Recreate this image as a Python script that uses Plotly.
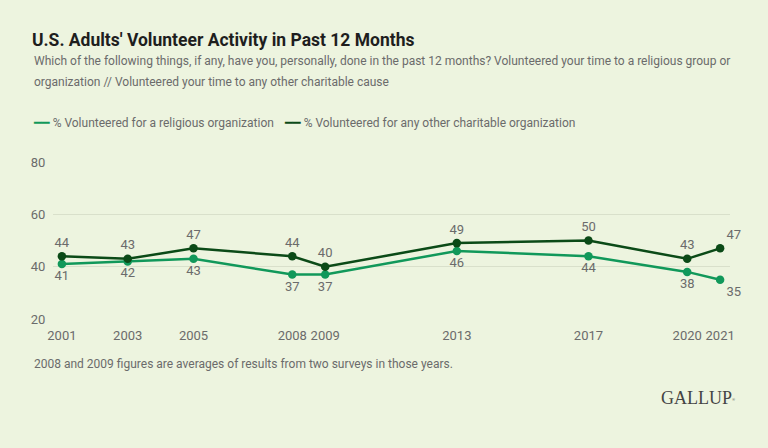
import plotly.graph_objects as go

years = [2001, 2003, 2005, 2008, 2009, 2013, 2017, 2020, 2021]
religious = [41, 42, 43, 37, 37, 46, 44, 38, 35]
charitable = [44, 43, 47, 44, 40, 49, 50, 43, 47]
y_ticks = [20, 40, 60, 80]
rel_name = '% Volunteered for a religious organization'
cha_name = '% Volunteered for any other charitable organization'

BG = '#EDF4DF'
C_REL = '#11985A'
C_CHA = '#0B4A17'
GREY = '#6b6b6b'
FONT = 'Roboto, Liberation Sans, sans-serif'


def px_x(p):
    # page pixel -> paper x (plot spans 53..730)
    return (p - 53) / 677


def px_y(p):
    # page pixel -> paper y (plot spans 162..319)
    return (319 - p) / 157


def key(color):
    # short line used as legend key
    return f'<span style="color:{color};font-family:DejaVu Sans;font-size:13px">━━</span>'


fig = go.Figure()

rel_pos = ['bottom center'] * (len(years) - 1) + ['bottom right']
cha_pos = ['top center'] * (len(years) - 1) + ['top right']
fig.add_trace(go.Scatter(x=years, y=religious, mode='lines+markers+text', name=rel_name,
                         line=dict(color=C_REL, width=2.5), marker=dict(color=C_REL, size=8.5),
                         text=[str(v) for v in religious], textposition=rel_pos, cliponaxis=False,
                         textfont=dict(family=FONT, size=13, color=GREY)))
fig.add_trace(go.Scatter(x=years, y=charitable, mode='lines+markers+text', name=cha_name,
                         line=dict(color=C_CHA, width=2.5), marker=dict(color=C_CHA, size=8.5),
                         text=[str(v) for v in charitable], textposition=cha_pos, cliponaxis=False,
                         textfont=dict(family=FONT, size=13, color=GREY)))

fig.update_layout(
    width=768, height=448,
    paper_bgcolor=BG, plot_bgcolor=BG,
    margin=dict(l=53, r=38, t=162, b=129),
    title=dict(text="<b>U.S. Adults' Volunteer Activity in Past 12 Months</b>",
               x=32 / 768, xanchor='left', xref='container',
               y=1 - 40 / 448, yanchor='middle', yref='container',
               font=dict(family=FONT, size=17.5, color='#1e1e1e')),
    showlegend=False,
    xaxis=dict(range=[2000.73, 2021.3], tickvals=years, showgrid=False, zeroline=False,
               showline=False, tickfont=dict(family=FONT, size=13, color=GREY),
               ticks='outside', ticklen=4, tickcolor='rgba(0,0,0,0)'),
    yaxis=dict(range=[20, 80], tickvals=y_ticks, showgrid=True, gridcolor='#D9E0CB', gridwidth=1,
               zeroline=False, showline=False, tickfont=dict(family=FONT, size=13, color=GREY),
               ticks='outside', ticklen=4, tickcolor='rgba(0,0,0,0)'),
    hovermode=False,
)

# legend row
fig.add_annotation(text=f'{key(C_REL)} {rel_name}',
                   xref='paper', yref='paper', x=px_x(31), y=px_y(122), xanchor='left', yanchor='middle',
                   showarrow=False, font=dict(family=FONT, size=12, color=GREY))
fig.add_annotation(text=f'{key(C_CHA)} {cha_name}',
                   xref='paper', yref='paper', x=px_x(282), y=px_y(122), xanchor='left', yanchor='middle',
                   showarrow=False, font=dict(family=FONT, size=12, color=GREY))

fig.add_annotation(text='Which of the following things, if any, have you, personally, done in the past 12 months? '
                        'Volunteered your time to a religious group or',
                   xref='paper', yref='paper', x=px_x(32), y=px_y(61), xanchor='left', yanchor='middle',
                   showarrow=False, font=dict(family=FONT, size=12, color=GREY))
fig.add_annotation(text='organization // Volunteered your time to any other charitable cause',
                   xref='paper', yref='paper', x=px_x(32), y=px_y(82), xanchor='left', yanchor='middle',
                   showarrow=False, font=dict(family=FONT, size=12, color=GREY))
fig.add_annotation(text='2008 and 2009 figures are averages of results from two surveys in those years.',
                   xref='paper', yref='paper', x=px_x(32), y=px_y(364), xanchor='left', yanchor='middle',
                   showarrow=False, font=dict(family=FONT, size=12, color=GREY))
fig.add_annotation(text='GALLUP<span style="font-size:6px"><sup>®</sup></span>',
                   xref='paper', yref='paper', x=px_x(737), y=px_y(398), xanchor='right', yanchor='middle',
                   showarrow=False, font=dict(family='Liberation Serif, serif', size=18, color='#444444'))

fig.write_html("out.html", config={'displayModeBar': False},
               post_script="document.body.style.margin='0';document.body.style.overflow='hidden';")
